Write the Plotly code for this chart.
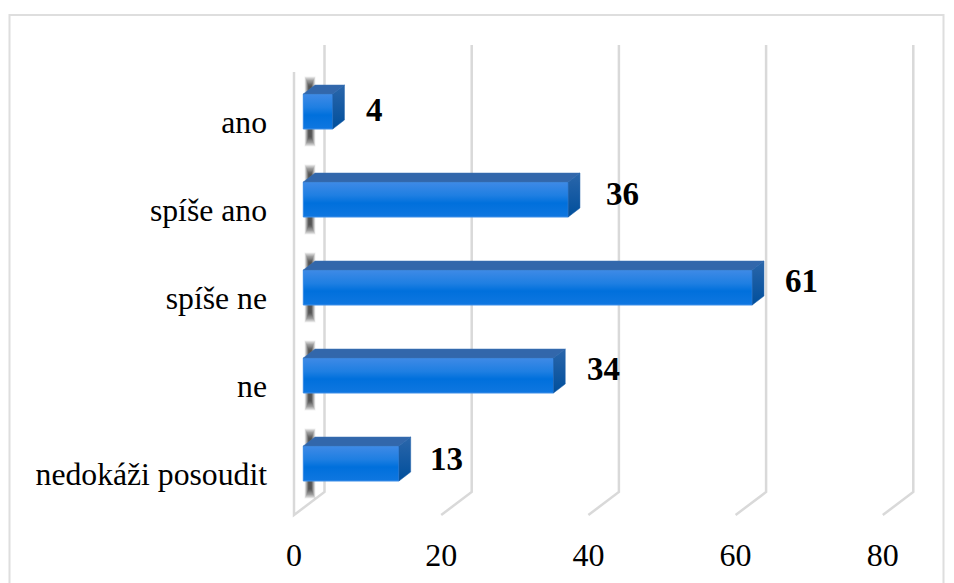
import plotly.graph_objects as go

categories = ["ano", "spíše ano", "spíše ne", "ne", "nedokáži posoudit"]
values = [4, 36, 61, 34, 13]
x_ticks = [0, 20, 40, 60, 80]

# Pixel geometry of the plot area
W, H = 954, 583
L, R, T, B = 280, 930, 40, 530
X0_PX, PX_PER_UNIT = 294.0, 7.36
Y0_PX, PX_PER_ROW = 121.5, 88.0


def ux(px):
    return px / PX_PER_UNIT


def uy(px):
    return px / PX_PER_ROW


x_range = [ux(L - X0_PX), ux(R - X0_PX)]
y_range = [uy(B - Y0_PX), uy(T - Y0_PX)]

BAR_BASE = ux(9.3)
BAR_SHIFT = uy(-10)
BAR_W = uy(35)
DEPTH_X, DEPTH_Y = ux(11.7), uy(9)
BACK_X, BACK_Y = ux(30.5), uy(-23)
FLOOR_Y = uy(515 - Y0_PX)
BACK_TOP = uy(45 - Y0_PX)
FRONT_TOP = uy(72 - Y0_PX)
SHADOW_X = ux(16)
SHADOW_H = uy(35)

label_dx = [31, 36, 31, 31, 29]
label_dy = [-1.5, -6, -6.5, -6.5, -4.5]

rows = list(range(len(categories)))
fig = go.Figure()

# Shapes: wall, floor lines, shadows behind the bars
shapes = []
GRID = "#d9d9d9"
for t in x_ticks:
    xs = [t + BACK_X, t + BACK_X, t]
    ys = [BACK_TOP, FLOOR_Y + BACK_Y, FLOOR_Y]
    path = f"M {xs[0]} {ys[0]} L {xs[1]} {ys[1]} L {xs[2]} {ys[2]}"
    if t == 0:
        path += f" L {t} {FRONT_TOP}"
    shapes.append(dict(type="path", path=path, xref="x", yref="y", layer="below",
                       line=dict(color=GRID, width=2.5)))
for r in rows:
    c = r + BAR_SHIFT
    for width, frac, op in [(11, 1.0, 0.06), (10, 0.98, 0.08), (9, 0.96, 0.10),
                            (8, 0.93, 0.12), (7, 0.90, 0.14), (6, 0.86, 0.16),
                            (5, 0.82, 0.18), (4, 0.78, 0.20), (3, 0.74, 0.22)]:
        shapes.append(dict(type="line", xref="x", yref="y", layer="below",
                           x0=SHADOW_X, x1=SHADOW_X,
                           y0=c - SHADOW_H * frac, y1=c + SHADOW_H * frac,
                           line=dict(color="#202020", width=width), opacity=op))

# Outer frame, expressed as fractions of the plot area
fx = lambda p: (p - L) / (R - L)
fy = lambda p: (B - p) / (B - T)
shapes.append(dict(type="rect", xref="paper", yref="paper", layer="below",
                   x0=fx(9.5), x1=fx(943.5), y0=fy(15), y1=fy(600),
                   line=dict(color="#dedede", width=2)))

# Front faces
fig.add_trace(go.Bar(
    x=values, y=[r + BAR_SHIFT for r in rows], base=BAR_BASE, orientation="h",
    width=BAR_W, marker=dict(color="#0070dc", line=dict(width=0)),
    hoverinfo="skip", showlegend=False,
))

for r, v in zip(rows, values):
    c = r + BAR_SHIFT
    top, bot = c - BAR_W / 2, c + BAR_W / 2
    x0, x1 = BAR_BASE, BAR_BASE + v
    # gradient on the front face
    fig.add_trace(go.Scatter(
        x=[x0, x1, x1, x0, x0], y=[top, top, bot, bot, top], mode="lines",
        fill="toself", line=dict(color="#3f8fe8", width=1),
        fillgradient=dict(type="vertical", colorscale=[
            [0, "#0f77e0"], [0.4, "#0070dc"], [0.62, "#1f7fe2"], [1, "#3f8ae6"]]),
        hoverinfo="skip", showlegend=False))
    # top face
    fig.add_trace(go.Scatter(
        x=[x0, x0 + DEPTH_X, x1 + DEPTH_X, x1, x0],
        y=[top, top - DEPTH_Y, top - DEPTH_Y, top, top], mode="lines",
        fill="toself", fillcolor="#3267ab", line=dict(color="#3a70b5", width=0.5),
        hoverinfo="skip", showlegend=False))
    # side face
    fig.add_trace(go.Scatter(
        x=[x1, x1 + DEPTH_X, x1 + DEPTH_X, x1, x1],
        y=[top, top - DEPTH_Y, bot - DEPTH_Y, bot, top], mode="lines",
        fill="toself", line=dict(color="#1c5ea8", width=0.5),
        fillgradient=dict(type="vertical", colorscale=[
            [0, "#004f9c"], [1, "#2b66aa"]]),
        hoverinfo="skip", showlegend=False))

annotations = []
for r, v, dx, dy in zip(rows, values, label_dx, label_dy):
    annotations.append(dict(
        x=BAR_BASE + v, y=r + BAR_SHIFT, xref="x", yref="y", text=str(v),
        showarrow=False, xanchor="left", yanchor="middle",
        xshift=dx, yshift=-dy,
        font=dict(family="Liberation Serif", size=33, color="#000000", weight="bold"),
    ))

fig.update_layout(
    width=W, height=H, autosize=False,
    paper_bgcolor="#ffffff", plot_bgcolor="rgba(0,0,0,0)",
    margin=dict(l=L, r=W - R, t=T, b=H - B, pad=0),
    showlegend=False, shapes=shapes, annotations=annotations,
    font=dict(family="Liberation Serif", color="#000000"),
    xaxis=dict(range=x_range, tickmode="array", tickvals=x_ticks,
               ticktext=[str(t) for t in x_ticks],
               showgrid=False, zeroline=False, showline=False, ticks="",
               tickfont=dict(size=32, family="Liberation Serif"),
               ticklabelstandoff=3, automargin=False, fixedrange=True),
    yaxis=dict(range=y_range, tickmode="array", tickvals=rows, ticktext=categories,
               showgrid=False, zeroline=False, showline=False, ticks="",
               tickfont=dict(size=31.7, family="Liberation Serif"),
               ticklabelstandoff=12, automargin=False, fixedrange=True),
)

fig.write_html("out.html", config=dict(displayModeBar=False),
               post_script="document.body.style.margin='0';document.documentElement.style.overflow='hidden';")
